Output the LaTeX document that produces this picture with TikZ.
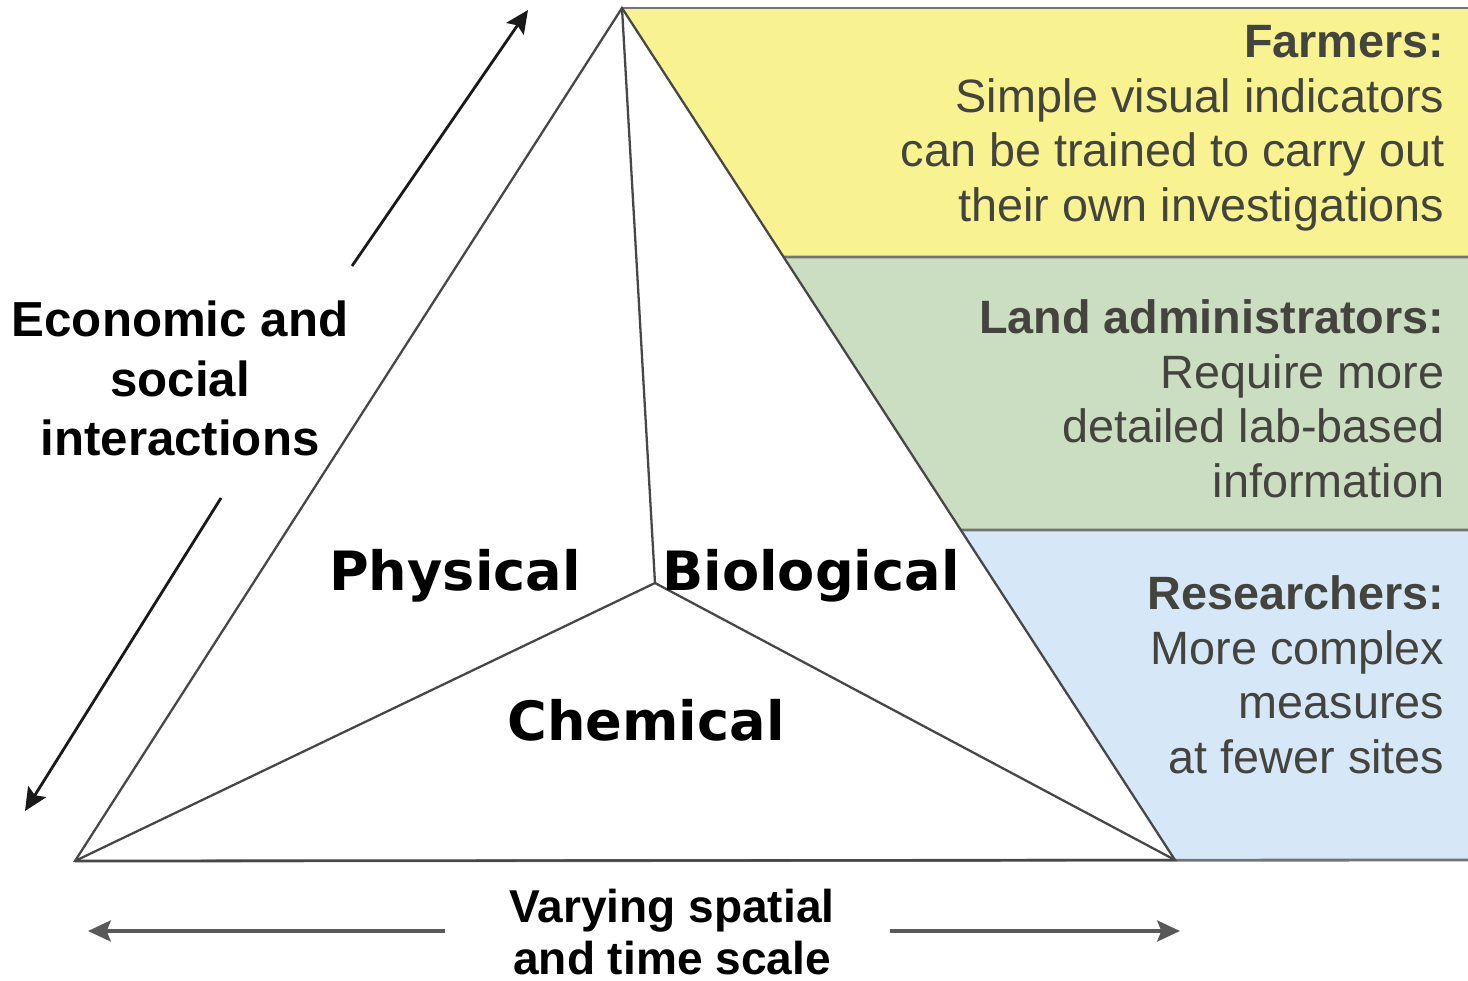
\documentclass[tikz,border=0pt]{standalone}
\usepackage{fontspec}
\setmainfont{Liberation Sans}
\newfontfamily\facetfont{DejaVu Sans}
\usepackage{tikz}
\usetikzlibrary{calc}
\usetikzlibrary{arrows.meta}

\definecolor{farmyellow}{RGB}{248,243,144}
\definecolor{landgreen}{RGB}{204,222,194}
\definecolor{researchblue}{RGB}{214,232,248}
\definecolor{paneltext}{RGB}{68,68,62}

\tikzset{
    edge/.style={draw=black!72,line width=0.65pt},
    panelline/.style={draw=black!55,line width=0.8pt},
    panel/.style={anchor=north east,inner sep=0pt,align=right,text=paneltext,
        font=\fontsize{13.3}{15.5}\selectfont},
    facet/.style={anchor=base,inner sep=0pt,font=\facetfont\bfseries\fontsize{15.4}{18}\selectfont},
    axislabel/.style={anchor=north,inner sep=0pt,align=center},
    slantarrow/.style={->,draw=black!90,line width=0.8pt},
    flatarrow/.style={->,draw=black!65,line width=0.9pt},
    >={Stealth[length=6.5pt,width=6pt,inset=1.2pt]}
}

\begin{document}
\begin{tikzpicture}[x=0.01cm,y=-0.01cm]
            \useasboundingbox (0,0) rectangle (1468,981);

            % 三角形の頂点
            \coordinate (top) at (622,8);
            \coordinate (bl) at (75,861);
            \coordinate (br) at (1175,860);
            \coordinate (mid) at (655,583);

            % 右側の帯の境界
            \coordinate (rt) at (1468,8);
            \coordinate (ry) at (1468,257);
            \coordinate (rg) at (1468,530);
            \coordinate (rb) at (1468,860);
            \coordinate (ey) at ($(top)!0.2923!(br)$);
            \coordinate (eg) at ($(top)!0.6127!(br)$);

            % 帯を塗る
            \fill[farmyellow] (top)--(rt)--(ry)--(ey)--cycle;
            \fill[landgreen] (ey)--(ry)--(rg)--(eg)--cycle;
            \fill[researchblue] (eg)--(rg)--(rb)--(br)--cycle;
            \draw[panelline] (top)--(rt);
            \draw[panelline] (ey)--(ry);
            \draw[panelline] (eg)--(rg);
            \draw[panelline] (bl)--(rb);

            % 三角形を描く
            \draw[edge] (top)--(bl)--(br)--cycle;
            \draw[edge] (top)--(mid);
            \draw[edge] (bl)--(mid)--(br);

            \node[facet] (physical) at (455,590) {Physical};
            \node[facet] (biological) at (811,590) {Biological};
            \node[facet] (chemical) at (646,740) {Chemical};

            \node[panel] (farmers) at (1445,25) {\textbf{Farmers:}\\Simple visual indicators\\can be trained to carry out\\their own investigations};
            \node[panel] (admins) at (1445,299) {\textbf{Land administrators:}\\Require more\\detailed lab-based\\information};
            \node[panel] (researchers) at (1445,575) {\textbf{Researchers:}\\More complex\\measures\\at fewer sites};

            % 軸の説明
            \node[axislabel,font=\bfseries\fontsize{14}{17}\selectfont] (econ) at (180,300) {Economic and\\social\\interactions};
            \node[axislabel,font=\bfseries\fontsize{13.1}{15}\selectfont] (scale) at (672,888) {Varying spatial\\and time scale};

            \coordinate (upS) at (352,266);
            \coordinate (upE) at (528,10);
            \coordinate (dnS) at (221,498);
            \coordinate (dnE) at (25,811);
            \coordinate (lfS) at (445,931);
            \coordinate (lfE) at (88,931);
            \coordinate (rgS) at (890,931);
            \coordinate (rgE) at (1180,931);

            \draw[slantarrow] (upS)--(upE);
            \draw[slantarrow] (dnS)--(dnE);
            \draw[flatarrow] (lfS)--(lfE);
            \draw[flatarrow] (rgS)--(rgE);

\end{tikzpicture}
\end{document}
